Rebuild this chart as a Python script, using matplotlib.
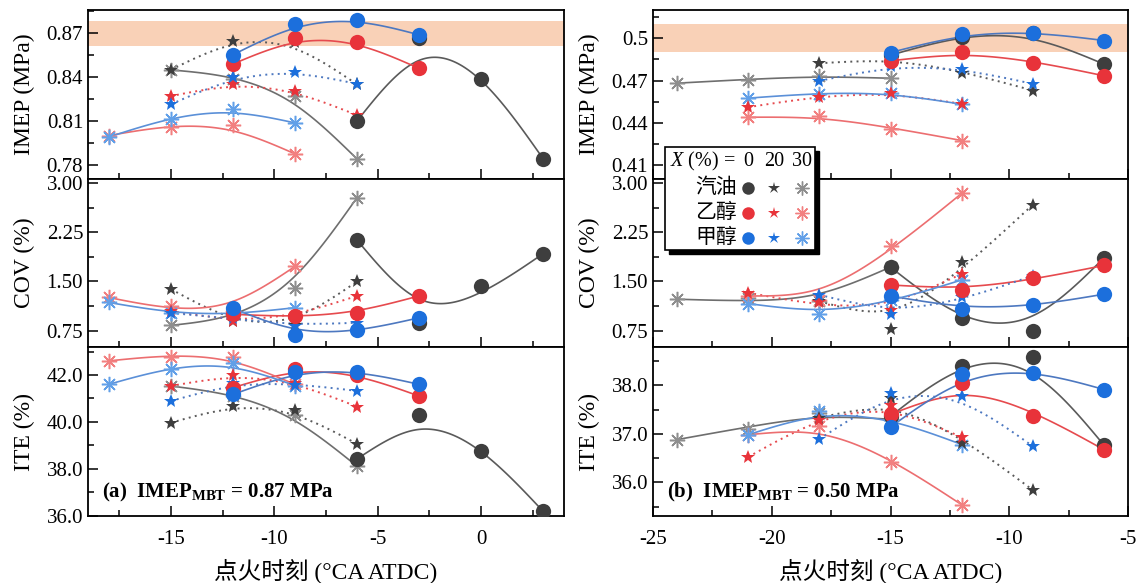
import numpy as np
import matplotlib
matplotlib.use('Agg')
import matplotlib.pyplot as plt
from matplotlib.patches import Rectangle
from matplotlib.ticker import MultipleLocator, FixedLocator, FormatStrFormatter

plt.rcParams['font.family'] = ['Liberation Serif', 'Noto Sans CJK SC']
plt.rcParams['mathtext.fontset'] = 'custom'
plt.rcParams['mathtext.rm'] = 'Liberation Serif'
plt.rcParams['mathtext.it'] = 'Liberation Serif:italic'
plt.rcParams['mathtext.bf'] = 'Liberation Serif:bold'
plt.rcParams['axes.unicode_minus'] = False

# ---- (a) IMEP_MBT = 0.87 MPa ; rows are X = 0, 20, 30 % ----
xa_gas = [[-6, -3, 0, 3], [-15, -12, -9, -6], [-15, -12, -9, -6]]
xa_eth = [[-12, -9, -6, -3], [-15, -12, -9, -6], [-18, -15, -12, -9]]
xa_met = [[-12, -9, -6, -3], [-15, -12, -9, -6], [-18, -15, -12, -9]]

imep_a_gas = [[0.810, 0.867, 0.839, 0.784], [0.845, 0.865, 0.864, 0.835], [0.845, 0.839, 0.827, 0.784]]
imep_a_eth = [[0.849, 0.867, 0.864, 0.846], [0.827, 0.8355, 0.8305, 0.814], [0.800, 0.806, 0.807, 0.7875]]
imep_a_met = [[0.8553, 0.8766, 0.8795, 0.869], [0.8214, 0.840, 0.8438, 0.8354], [0.799, 0.8117, 0.8184, 0.8087]]

cov_a_gas = [[2.133, 0.869, 1.437, 1.927], [1.385, 0.90, 0.84, 1.50], [0.83, 1.00, 1.40, 2.78]]
cov_a_eth = [[1.00, 0.97, 1.02, 1.28], [1.05, 0.90, 0.98, 1.28], [1.256, 1.127, 1.05, 1.73]]
cov_a_met = [[1.09, 0.69, 0.765, 0.946], [1.02, 0.95, 0.82, 0.87], [1.18, 1.02, 1.00, 1.10]]

ite_a_gas = [[38.42, 40.30, 38.78, 36.18], [39.96, 40.67, 40.49, 39.06], [41.53, 41.1, 40.3, 38.11]]
ite_a_eth = [[41.46, 42.27, 42.0, 41.10], [41.53, 41.99, 41.67, 40.65], [42.60, 42.78, 42.78, 41.6]]
ite_a_met = [[41.17, 42.14, 42.14, 41.6], [40.89, 41.67, 41.57, 41.32], [41.6, 42.27, 42.53, 41.55]]

# ---- (b) IMEP_MBT = 0.50 MPa ----
xb_gas = [[-15, -12, -9, -6], [-18, -15, -12, -9], [-24, -21, -18, -15]]
xb_eth = [[-15, -12, -9, -6], [-21, -18, -15, -12], [-21, -18, -15, -12]]
xb_met = [[-15, -12, -9, -6], [-18, -15, -12, -9], [-21, -18, -15, -12]]

imep_b_gas = [[0.488, 0.501, 0.5035, 0.4816], [0.4823, 0.486, 0.4757, 0.463], [0.4682, 0.4705, 0.4734, 0.4717]]
imep_b_eth = [[0.484, 0.4906, 0.4828, 0.4734], [0.4512, 0.4583, 0.4616, 0.4536], [0.4441, 0.4451, 0.4359, 0.4276]]
imep_b_met = [[0.4899, 0.5031, 0.504, 0.4984], [0.4698, 0.4804, 0.4781, 0.4677], [0.4576, 0.4606, 0.4616, 0.4533]]

cov_b_gas = [[1.72, 0.936, 0.75, 1.865], [1.20, 0.78, 1.80, 2.675], [1.23, 1.25, 1.20, 1.72]]
cov_b_eth = [[1.447, 1.37, 1.55, 1.746], [1.33, 1.18, 1.07, 1.617], [1.28, 1.21, 2.04, 2.846]]
cov_b_met = [[1.28, 1.085, 1.137, 1.307], [1.297, 0.998, 1.256, 1.59], [1.163, 1.008, 1.21, 1.524]]

ite_b_gas = [[37.36, 38.39, 38.58, 36.76], [37.33, 37.74, 36.82, 35.84], [36.88, 37.10, 37.42, 37.3]]
ite_b_eth = [[37.4, 38.05, 37.37, 36.67], [36.52, 37.29, 37.6, 36.93], [36.98, 37.17, 36.43, 35.54]]
ite_b_met = [[37.14, 38.24, 38.25, 37.91], [36.89, 37.83, 37.77, 36.74], [36.98, 37.46, 37.29, 36.78]]

fuels = ['汽油', '乙醇', '甲醇']
x_levels = ['0', '20', '30']

# colours: marker X=0/20, asterisk X=30, line X=0/20, line X=30
sty = {
    'gas': ('#3e3e3e', '#8e8e8e', '#5a5a5a', '#6e6e6e'),
    'eth': ('#e8333a', '#f28080', '#e64a4e', '#ec6e70'),
    'met': ('#1c6fdc', '#62a0e8', '#4d78c0', '#5b90d8'),
}
AST = (8, 2, 0)


def smooth_line(x, y, lam=4.0, k=30):
    # smoothed connecting curve (ends fixed), like the plotting program's spline
    x = np.asarray(x, float)
    y = np.asarray(y, float)
    n = len(x)
    m = (n - 1) * k + 1
    g = np.linspace(x[0], x[-1], m)
    h = g[1] - g[0]
    idx = np.arange(n) * k
    w = np.zeros(m)
    w[idx] = 1.0
    w[idx[0]] = w[idx[-1]] = 1e5
    t = np.zeros(m)
    t[idx] = y
    D = np.diff(np.eye(m), 2, axis=0) / h ** 2
    A = np.diag(w) + lam * h * D.T @ D
    return g, np.linalg.solve(A, w * t)


def draw(ax, xs, ys, key):
    mc, ac, lc, lc3 = sty[key]
    for k in range(3):
        gx, gy = smooth_line(xs[k], ys[k])
        if k == 1:
            ax.plot(gx, gy, color=lc, lw=1.4, ls=(0, (1, 2.2)), zorder=2)
        else:
            ax.plot(gx, gy, color=lc if k == 0 else lc3, lw=1.2, zorder=2)
    ax.plot(xs[2], ys[2], ls='none', marker=AST, ms=11, mew=1.1, color=ac, zorder=3)
    ax.plot(xs[1], ys[1], ls='none', marker='*', ms=10, mew=0, color=mc, zorder=4)
    ax.plot(xs[0], ys[0], ls='none', marker='o', ms=11, mew=0, color=mc, zorder=5)


fig = plt.figure(figsize=(11.37, 5.83), dpi=100)

h = (0.9828 - 0.115) / 3
lefts = [88 / 1137, 653 / 1137]
widths = [476 / 1137, 475 / 1137]

panels = [
    dict(xlim=(-19, 4), xs=(xa_gas, xa_eth, xa_met),
         data=[(imep_a_gas, imep_a_eth, imep_a_met), (cov_a_gas, cov_a_eth, cov_a_met), (ite_a_gas, ite_a_eth, ite_a_met)],
         ylims=[(0.7705, 0.886), (0.495, 3.07), (35.99, 43.18)],
         major=[[0.78, 0.81, 0.84, 0.87], [0.75, 1.5, 2.25, 3.0], [36, 38, 40, 42]],
         minor=[[0.795, 0.825, 0.855, 0.885], [1.125, 1.875, 2.625], [37, 39, 41, 43]],
         fmt=['%.2f', '%.2f', '%.1f'], band=(0.8613, 0.8787),
         note=r'(a)  $\mathbf{IMEP_{MBT}}$ = 0.87 MPa'),
    dict(xlim=(-25, -5), xs=(xb_gas, xb_eth, xb_met),
         data=[(imep_b_gas, imep_b_eth, imep_b_met), (cov_b_gas, cov_b_eth, cov_b_met), (ite_b_gas, ite_b_eth, ite_b_met)],
         ylims=[(0.4006, 0.520), (0.495, 3.07), (35.31, 38.78)],
         major=[[0.41, 0.44, 0.47, 0.50], [0.75, 1.5, 2.25, 3.0], [36, 37, 38]],
         minor=[[0.425, 0.455, 0.485, 0.515], [1.125, 1.875, 2.625], [35.5, 36.5, 37.5, 38.5]],
         fmt=['%g', '%.2f', '%.1f'], band=(0.49, 0.51),
         note=r'(b)  $\mathbf{IMEP_{MBT}}$ = 0.50 MPa'),
]
ylabels = ['IMEP (MPa)', 'COV (%)', 'ITE (%)']

for p, pan in enumerate(panels):
    for r in range(3):
        ax = fig.add_axes([lefts[p], 0.115 + (2 - r) * h, widths[p], h])
        if r == 0:
            ax.axhspan(pan['band'][0], pan['band'][1], color='#f9d1b7', lw=0, zorder=0)
        for xs, ys, key in zip(pan['xs'], pan['data'][r], ['gas', 'eth', 'met']):
            draw(ax, xs, ys, key)
        ax.set_xlim(*pan['xlim'])
        ax.set_ylim(*pan['ylims'][r])
        ax.xaxis.set_major_locator(MultipleLocator(5))
        ax.xaxis.set_minor_locator(MultipleLocator(2.5))
        ax.yaxis.set_major_locator(FixedLocator(pan['major'][r]))
        ax.yaxis.set_minor_locator(FixedLocator(pan['minor'][r]))
        ax.yaxis.set_major_formatter(FormatStrFormatter(pan['fmt'][r]))
        ax.tick_params(which='both', direction='in', labelsize=15, width=1.1)
        ax.tick_params(which='major', length=7)
        ax.tick_params(which='minor', length=4)
        ax.tick_params(axis='x', pad=10)
        for s in ax.spines.values():
            s.set_linewidth(1.3)
        ax.set_ylabel(ylabels[r], fontsize=17)
        ax.yaxis.set_label_coords(-0.112, 0.5)
        if r < 2:
            ax.tick_params(axis='x', labelbottom=False)
        else:
            ax.set_xlabel('点火时刻 (°CA ATDC)', fontsize=17)
            ax.xaxis.set_label_coords(0.5, -0.25)
            ax.text(0.03, 0.14, pan['note'], transform=ax.transAxes, fontsize=15,
                    fontweight='bold', va='center', ha='left', zorder=6)

# hand-made legend (figure pixel coordinates)
lax = fig.add_axes([0, 0, 1, 1], facecolor='none')
lax.set_xlim(0, 1137)
lax.set_ylim(583, 0)
lax.axis('off')
lax.add_patch(Rectangle((669, 151), 150, 103, color='black', zorder=10))
lax.add_patch(Rectangle((665, 147), 150, 103, facecolor='white', edgecolor='black', lw=1.2, zorder=11))
cols = [748, 774, 802]
lax.text(670, 161, r'$\mathit{X}$ (%) =', fontsize=14.5, va='center', ha='left', zorder=12)
for cx, lv in zip(cols, x_levels):
    lax.text(cx, 161, lv, fontsize=14.5, va='center', ha='center', zorder=12)
for i, (fu, key) in enumerate(zip(fuels, ['gas', 'eth', 'met'])):
    ry = 188 + i * 25
    mc, ac, lc, lc3 = sty[key]
    lax.text(737, ry, fu, fontsize=15, va='center', ha='right', zorder=12)
    lax.plot(cols[0], ry, marker='o', ms=9, mew=0, color=mc, zorder=12)
    lax.plot(cols[1], ry, marker='*', ms=9, mew=0, color=mc, zorder=12)
    lax.plot(cols[2], ry, marker=AST, ms=10, mew=1.0, color=ac, zorder=12)

fig.savefig('out.png', dpi=100)
